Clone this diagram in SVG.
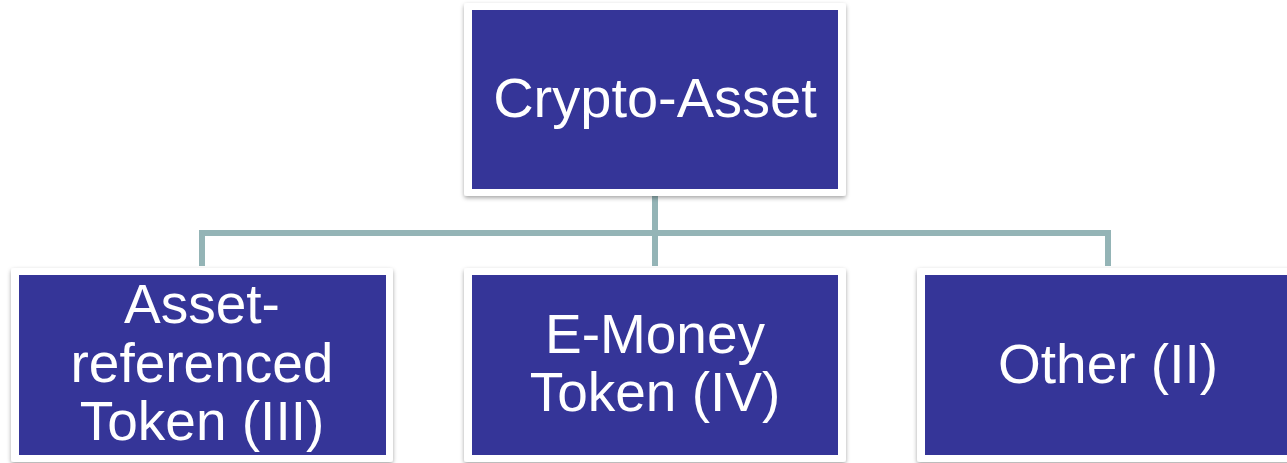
<svg xmlns="http://www.w3.org/2000/svg" width="1287" height="463" viewBox="0 0 1287 463">
<defs>
<filter id="sh" x="-10%" y="-10%" width="120%" height="125%">
<feDropShadow dx="0" dy="2" stdDeviation="2" flood-color="#000" flood-opacity="0.35"/>
</filter>
<style>
.frame{fill:#ffffff;filter:url(#sh)}
.box{fill:#353598}
.lbl{font-family:"Liberation Sans",Arial,sans-serif;font-size:55px;fill:#ffffff;text-anchor:middle}
.conn{stroke:#94B4B6;stroke-width:6;fill:none}
</style>
</defs>
<rect width="1287" height="463" fill="#ffffff"/>
<g id="connectors">
<path class="conn" d="M655 196 V266"/>
<path class="conn" d="M202 266 V233 H1108 V266"/>
</g>
<g id="node-crypto-asset">
<rect class="frame" x="464" y="3" width="382" height="193" rx="3"/>
<rect class="box" x="472" y="10" width="366" height="179"/>
<text class="lbl" x="655" y="117" style="font-size:56px">Crypto-Asset</text>
</g>
<g id="node-art">
<rect class="frame" x="11" y="268" width="382" height="194" rx="3"/>
<rect class="box" x="19" y="275" width="367" height="180"/>
<text class="lbl" x="202" y="323">Asset-</text>
<text class="lbl" x="202" y="382">referenced</text>
<text class="lbl" x="202" y="440">Token (III)</text>
</g>
<g id="node-emt">
<rect class="frame" x="464" y="268" width="382" height="194" rx="3"/>
<rect class="box" x="472" y="275" width="366" height="180"/>
<text class="lbl" x="655" y="353">E-Money</text>
<text class="lbl" x="655" y="411">Token (IV)</text>
</g>
<g id="node-other">
<rect class="frame" x="917" y="268" width="382" height="194" rx="3"/>
<rect class="box" x="925" y="275" width="367" height="180"/>
<text class="lbl" x="1108" y="383">Other (II)</text>
</g>
</svg>
